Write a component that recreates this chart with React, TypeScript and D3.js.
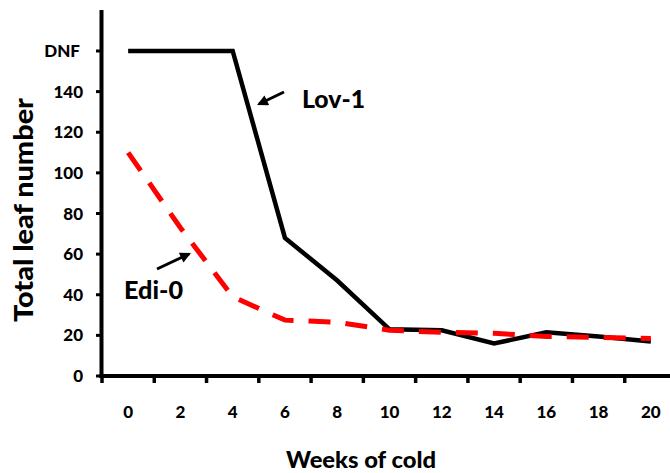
import React, { useEffect, useRef } from 'react'
import * as d3 from 'd3'

// weeks of cold (categories on the x axis)
const weeks = ['0', '2', '4', '6', '8', '10', '12', '14', '16', '18', '20']
// total leaf number, DNF plotted as 160
const lov1 = [160, 160, 160, 68, 47, 23, 22.5, 16, 21.5, 19.5, 17]
const edi0 = [110, 73, 39, 27.5, 26.5, 22.5, 21.5, 21, 19.5, 19, 18.5]
const yTicks = [0, 20, 40, 60, 80, 100, 120, 140, 160]

export default function App() {
    const ref = useRef<SVGSVGElement>(null)

    useEffect(() => {
        let width = 670
        const svg = d3.select(ref.current)
        svg.selectAll('*').remove()
        const font = 'Lato, "Open Sans", sans-serif'
        const weight = '900'

        const x = d3.scaleBand()
            .domain(weeks)
            .range([102, 677])

        const y = d3.scaleLinear()
            .domain([0, 160])
            .range([376, 51])

        // axes
        svg.append('line')
            .attr('x1', 101.5).attr('x2', 101.5)
            .attr('y1', 10).attr('y2', 378)
            .attr('stroke', 'black').attr('stroke-width', 4)

        svg.append('line')
            .attr('x1', 99.5).attr('x2', width)
            .attr('y1', y(0)).attr('y2', y(0))
            .attr('stroke', 'black').attr('stroke-width', 4)

        // y ticks
        svg.selectAll('.ytick')
            .data(yTicks)
            .enter()
            .append('line')
            .attr('x1', 96).attr('x2', 102)
            .attr('y1', (d: number) => y(d)).attr('y2', (d: number) => y(d))
            .attr('stroke', 'black').attr('stroke-width', 3)

        svg.selectAll('.ylabel')
            .data(yTicks)
            .enter()
            .append('text')
            .attr('x', (d: number) => d === 160 ? 80 : 83)
            .attr('y', (d: number) => y(d) + 6)
            .attr('text-anchor', 'end')
            .style('font-family', font)
            .style('font-weight', weight)
            .style('font-size', '17px')
            .text((d: number) => d === 160 ? 'DNF' : String(d))

        // x ticks at band edges
        svg.selectAll('.xtick')
            .data(weeks)
            .enter()
            .append('line')
            .attr('x1', (d: string) => (x(d) as number))
            .attr('x2', (d: string) => (x(d) as number))
            .attr('y1', y(0)).attr('y2', y(0) + 7)
            .attr('stroke', 'black').attr('stroke-width', 3.5)

        svg.selectAll('.xlabel')
            .data(weeks)
            .enter()
            .append('text')
            .attr('x', (d: string) => (x(d) as number) + x.bandwidth() / 2)
            .attr('y', 418)
            .attr('text-anchor', 'middle')
            .style('font-family', font)
            .style('font-weight', weight)
            .style('font-size', '17px')
            .text((d: string) => d)

        // titles
        svg.append('text')
            .attr('x', 361).attr('y', 468)
            .attr('text-anchor', 'middle')
            .attr('textLength', 150).attr('lengthAdjust', 'spacingAndGlyphs')
            .style('font-family', font)
            .style('font-weight', weight)
            .style('font-size', '22px')
            .text('Weeks of cold')

        svg.append('text')
            .attr('transform', 'translate(33, 210) rotate(-90)')
            .attr('text-anchor', 'middle')
            .attr('textLength', 224).attr('lengthAdjust', 'spacingAndGlyphs')
            .style('font-family', font)
            .style('font-weight', weight)
            .style('font-size', '26px')
            .text('Total leaf number')

        // series
        const line = d3.line<number>()
            .x((d, i) => (x(weeks[i]) as number) + x.bandwidth() / 2)
            .y((d) => y(d))

        svg.append('path')
            .datum(lov1)
            .attr('d', line)
            .attr('fill', 'none')
            .attr('stroke', 'black')
            .attr('stroke-width', 4.5)

        svg.append('path')
            .datum(edi0)
            .attr('d', line)
            .attr('fill', 'none')
            .attr('stroke', '#ff0000')
            .attr('stroke-width', 5)
            .attr('stroke-dasharray', '22 15')

        // annotations
        svg.append('defs').append('marker')
            .attr('id', 'arrow')
            .attr('viewBox', '0 0 10 10')
            .attr('refX', 8).attr('refY', 5)
            .attr('markerWidth', 4).attr('markerHeight', 3.6)
            .attr('markerUnits', 'strokeWidth')
            .attr('orient', 'auto')
            .append('path')
            .attr('d', 'M0,0 L10,5 L0,10 z')
            .attr('fill', 'black')

        svg.append('line')
            .attr('x1', 284).attr('y1', 92)
            .attr('x2', 259).attr('y2', 104)
            .attr('stroke', 'black').attr('stroke-width', 3)
            .attr('marker-end', 'url(#arrow)')

        svg.append('line')
            .attr('x1', 157).attr('y1', 269)
            .attr('x2', 189).attr('y2', 254)
            .attr('stroke', 'black').attr('stroke-width', 3)
            .attr('marker-end', 'url(#arrow)')

        svg.append('text')
            .attr('x', 302).attr('y', 108)
            .attr('textLength', 63).attr('lengthAdjust', 'spacingAndGlyphs')
            .style('font-family', font)
            .style('font-weight', weight)
            .style('font-size', '25px')
            .text('Lov-1')

        svg.append('text')
            .attr('x', 124).attr('y', 299)
            .attr('textLength', 59).attr('lengthAdjust', 'spacingAndGlyphs')
            .style('font-family', font)
            .style('font-weight', weight)
            .style('font-size', '25px')
            .text('Edi-0')
    }, [])

    return (
        <svg ref={ref} width={670} height={473}
            style={{ position: 'absolute', left: 0, top: 0, background: 'white' }} />
    )
}
